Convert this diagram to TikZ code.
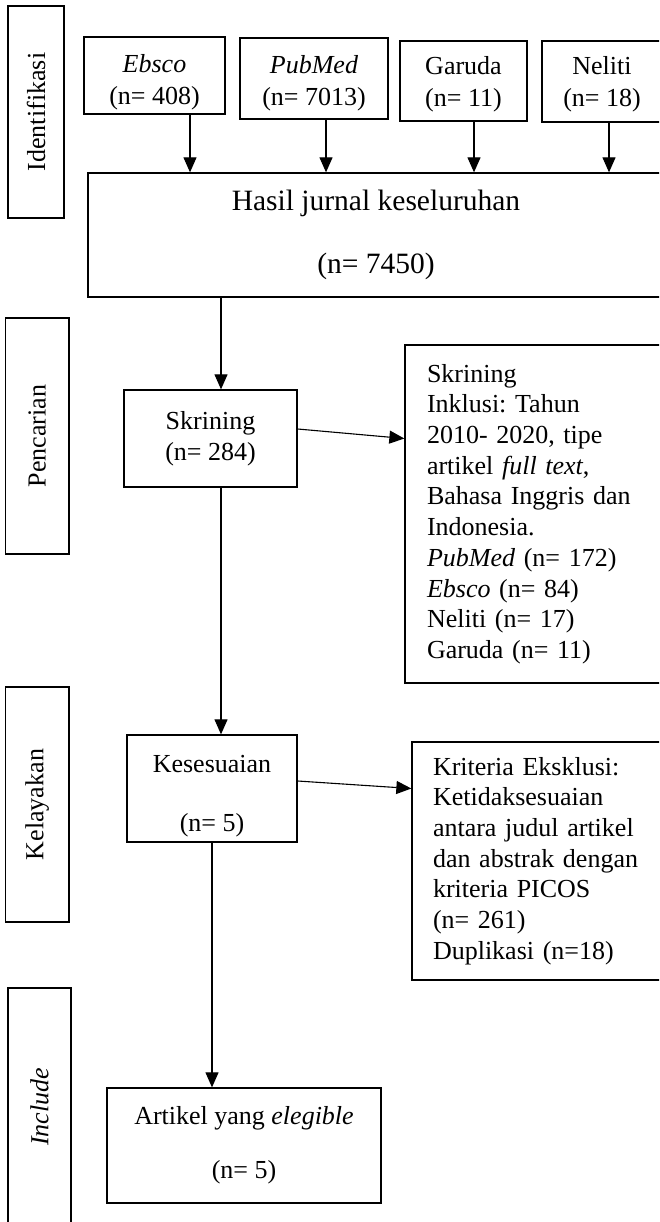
\documentclass[tikz,border=0pt]{standalone}
\usepackage{fontspec}
\setmainfont{Liberation Serif}
\usetikzlibrary{arrows.meta,positioning,shapes}
\newcommand{\textdrop}[1]{\rule{0pt}{#1}}

\begin{document}
\begin{tikzpicture}[x=1pt,y=-1pt,>={Triangle[length=15pt,width=13pt]}]
	\tikzstyle{box}=[draw, rectangle, line width=1.3pt, inner sep=0pt, align=center, font=\fontsize{26}{30.7}\selectfont\frenchspacing]
	\tikzstyle{phase}=[box, rotate=90]
	\tikzstyle{note}=[box, align=left, inner xsep=22pt, inner ysep=0pt]
	\tikzstyle{flow}=[->, line width=1.1pt]

	\useasboundingbox (0,0) rectangle (659,1222);
	\clip (0,0) rectangle (659,1222);

	% tahap
	\node[phase, minimum width=212pt, minimum height=56pt] (identifikasi) at (36,112) {Identifikasi};
	\node[phase, minimum width=236pt, minimum height=63.5pt] (pencarian) at (37.25,436) {Pencarian};
	\node[phase, minimum width=235pt, minimum height=63.5pt] (kelayakan) at (37.25,804.5) {Kelayakan};
	\node[phase, minimum width=238pt, minimum height=63pt] (include) at (39.5,1107) {\textit{Include}};

	% sumber
	\node[box, minimum width=141pt, minimum height=77pt] (ebsco) at (154.5,75.5) {\textdrop{31pt}\textit{Ebsco}\\[1.3pt](n= 408)};
	\node[box, minimum width=148pt, minimum height=81pt] (pubmed) at (314,78.5) {\textdrop{28pt}\textit{PubMed}\\[1.3pt](n= 7013)};
	\node[box, minimum width=127pt, minimum height=80pt] (garuda) at (463.5,81) {\textdrop{24pt}Garuda\\[1.3pt](n= 11)};
	\node[box, minimum width=120pt, minimum height=81pt] (neliti) at (602,81.5) {\textdrop{24pt}Neliti\\[1.3pt](n= 18)};

	\node[box, minimum width=576pt, minimum height=124pt, font=\fontsize{29.5}{31.5}\selectfont] (hasil) at (376,235) {Hasil jurnal keseluruhan\\[31.5pt](n= 7450)};
	\node[box, minimum width=173pt, minimum height=97pt] (skrining) at (210.5,438.5) {Skrining\\(n= 284)};
	\node[note, text width=215pt, minimum height=338pt] (inklusi) at (534.5,514) {Skrining\\
		Inklusi: Tahun\\
		2010- 2020, tipe\\
		artikel \textit{full text},\\
		Bahasa Inggris dan\\
		Indonesia.\\
		\textit{PubMed} (n= 172)\\
		\textit{Ebsco} (n= 84)\\
		Neliti (n= 17)\\
		Garuda (n= 11)};
	\node[box, minimum width=170pt, minimum height=107pt] (kesesuaian) at (212,788.5) {\textdrop{32pt}Kesesuaian\\[28pt](n= 5)};
	\node[note, inner xsep=21pt, text width=212pt, minimum height=238pt] (eksklusi) at (539,861) {Kriteria Eksklusi:\\
		Ketidaksesuaian\\
		antara judul artikel\\
		dan abstrak dengan\\
		kriteria PICOS\\
		(n= 261)\\
		Duplikasi (n=18)};
	\node[box, minimum width=274pt, minimum height=115pt] (artikel) at (244,1145.5) {Artikel yang \textit{elegible}\\[23pt](n= 5)};

	\coordinate (a1) at ([xshift=35.5pt]ebsco.south);
	\coordinate (a2) at ([xshift=12pt]pubmed.south);
	\coordinate (a3) at ([xshift=10.5pt]garuda.south);
	\coordinate (a4) at ([xshift=7pt]neliti.south);
	\coordinate (a5) at ([xshift=10.5pt]skrining.north);
	\coordinate (a6) at ([xshift=10.5pt]skrining.south);

	\draw[flow] (a1) -- (a1 |- hasil.north);
	\draw[flow] (a2) -- (a2 |- hasil.north);
	\draw[flow] (a3) -- (a3 |- hasil.north);
	\draw[flow] (a4) -- (a4 |- hasil.north);
	\draw[flow] (a5 |- hasil.south) -- (a5);
	\draw[flow] ([yshift=9.5pt]skrining.east) -- (inklusi.west |- skrining.east);
	\draw[flow] (a6) -- (a6 |- kesesuaian.north);
	\draw[flow] ([yshift=7.5pt]kesesuaian.east) -- (eksklusi.west |- kesesuaian.east);
	\draw[flow] (kesesuaian.south) -- (kesesuaian.south |- artikel.north);
\end{tikzpicture}
\end{document}
